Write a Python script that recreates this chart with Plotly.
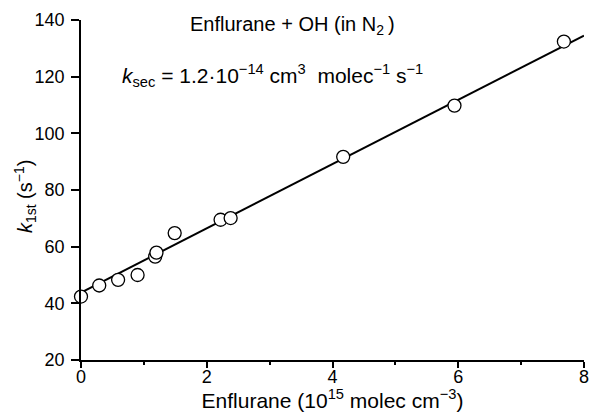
import plotly.graph_objects as go

# Data
enflurane = [0.0, 0.29, 0.59, 0.90, 1.18, 1.20, 1.49, 2.22, 2.38, 4.17, 5.94, 7.68]
k_first = [42.4, 46.3, 48.3, 50.0, 56.5, 57.9, 64.8, 69.5, 70.1, 91.7, 109.8, 132.4]
fit_x = [0.0, 8.0]
fit_y = [43.8, 134.5]

x_ticks = [0, 2, 4, 6, 8]
y_ticks = [20, 40, 60, 80, 100, 120, 140]

FONT = "Liberation Sans, Arial, Helvetica, sans-serif"

fig = go.Figure()
fig.add_trace(go.Scatter(x=fit_x, y=fit_y, mode="lines",
                         line=dict(color="black", width=2), showlegend=False,
                         cliponaxis=False))
fig.add_trace(go.Scatter(x=enflurane, y=k_first, mode="markers",
                         marker=dict(symbol="circle", size=13, color="white",
                                     line=dict(color="black", width=1.3)),
                         showlegend=False, cliponaxis=False))

fig.update_layout(
    width=594, height=412,
    margin=dict(l=81, r=5, t=20, b=52),
    paper_bgcolor="white", plot_bgcolor="white",
    font=dict(family=FONT, size=18, color="black"),
    xaxis=dict(range=[0, 8], tickvals=x_ticks, showline=True, linecolor="black",
               linewidth=1.5, ticks="outside", ticklen=6, tickwidth=1.5,
               tickcolor="black", showgrid=False, zeroline=False,
               automargin="right", tickfont=dict(size=18),
               ticklabelstandoff=-6, ticklabeloverflow="allow",
               minor=dict(ticks="outside", ticklen=3, tickwidth=1.5,
                          tickcolor="black", dtick=1, showgrid=False),
               title=dict(text="Enflurane (10<sup>15</sup> molec cm<sup>\u22123</sup>)",
                          standoff=4, font=dict(size=21))),
    yaxis=dict(range=[20, 140], tickvals=y_ticks, showline=True, linecolor="black",
               linewidth=1.5, ticks="outside", ticklen=8, tickwidth=1.5,
               tickcolor="black", showgrid=False, zeroline=False,
               automargin=False, tickfont=dict(size=18), ticklabelstandoff=3),
    annotations=[
        dict(text="<i>k</i><sub>1st</sub> (s<sup>\u22121</sup>)", textangle=-90,
             x=0, xref="paper", xshift=-56, xanchor="center",
             y=0.482, yref="paper", yanchor="middle", showarrow=False,
             font=dict(size=20)),
        dict(text="Enflurane + OH (in N<sub>2</sub>\u2009)", x=0.42, y=137.9,
             xref="paper", yref="y", showarrow=False, yanchor="middle",
             font=dict(size=20)),
        dict(text="<i>k</i><sub>sec</sub> = 1.2\u00b710<sup>\u221214</sup> cm<sup>3</sup>  molec<sup>\u22121</sup> s<sup>\u22121</sup>",
             x=0.381, y=120.3, xref="paper", yref="y", showarrow=False,
             yanchor="middle", font=dict(size=21)),
    ],
)

fig.write_html("out.html")
